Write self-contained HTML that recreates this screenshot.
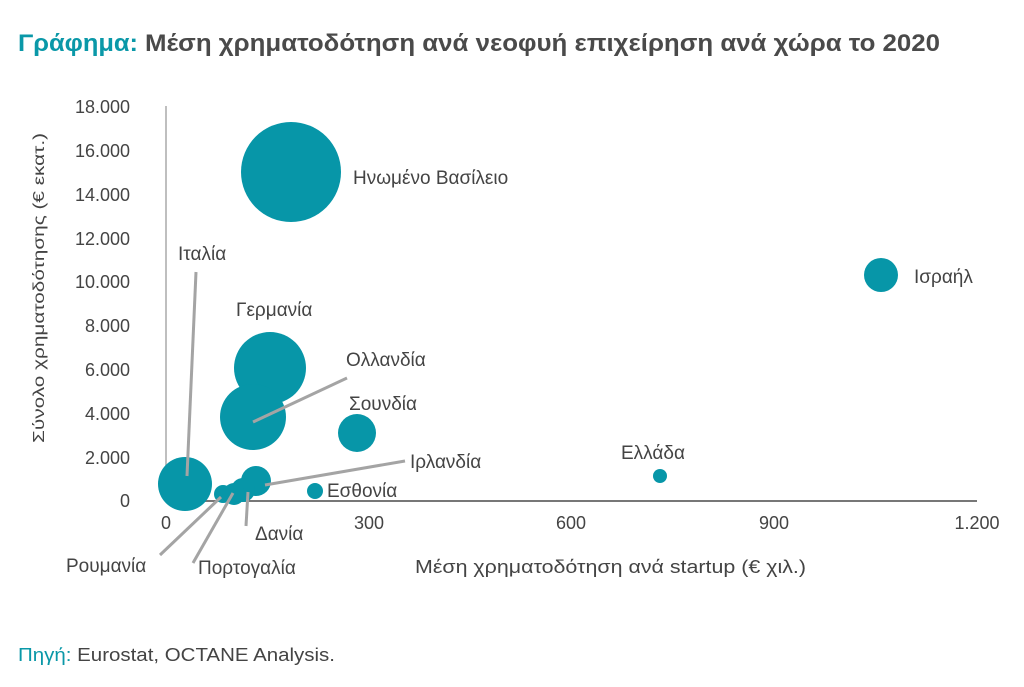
<!DOCTYPE html>
<html><head><meta charset="utf-8"><style>
body{margin:0;background:#fff;}
svg text{font-family:"Liberation Sans",sans-serif;fill:#444;}
</style></head><body>
<svg width="1024" height="682" xmlns="http://www.w3.org/2000/svg">
<text x="18" y="51" font-size="24" font-weight="bold" style="fill:#0a98a8" textLength="120" lengthAdjust="spacingAndGlyphs">Γράφημα:</text>
<text x="145" y="51" font-size="24" font-weight="bold" style="fill:#4a4a4a" textLength="795" lengthAdjust="spacingAndGlyphs">Μέση χρηματοδότηση ανά νεοφυή επιχείρηση ανά χώρα το 2020</text>
<g font-size="18" text-anchor="end">
<text x="130" y="113">18.000</text><text x="130" y="157">16.000</text><text x="130" y="201">14.000</text>
<text x="130" y="245">12.000</text><text x="130" y="288">10.000</text><text x="130" y="332">8.000</text>
<text x="130" y="376">6.000</text><text x="130" y="420">4.000</text><text x="130" y="464">2.000</text>
<text x="130" y="507">0</text></g>
<g font-size="18" text-anchor="middle">
<text x="166" y="529">0</text><text x="369" y="529">300</text><text x="571" y="529">600</text>
<text x="774" y="529">900</text><text x="977" y="529">1.200</text></g>
<text transform="translate(44,288) rotate(-90)" font-size="16" text-anchor="middle" textLength="310" lengthAdjust="spacingAndGlyphs">Σύνολο χρηματοδότησης (€ εκατ.)</text>
<text x="415" y="573" font-size="18" textLength="391" lengthAdjust="spacingAndGlyphs">Μέση χρηματοδότηση ανά startup (€ χιλ.)</text>
<line x1="166" y1="106" x2="166" y2="501" stroke="#aaa" stroke-width="1.5"/>
<line x1="166" y1="501" x2="977" y2="501" stroke="#777" stroke-width="2"/>
<g fill="#0796a8">
<circle cx="291" cy="172" r="50"/><circle cx="881" cy="275" r="17"/>
<circle cx="270" cy="368" r="36"/><circle cx="253" cy="417" r="33"/>
<circle cx="357" cy="433" r="19"/><circle cx="185" cy="484" r="27"/>
<circle cx="256" cy="481" r="15"/><circle cx="243" cy="490" r="12"/>
<circle cx="234" cy="494" r="11"/><circle cx="223" cy="494" r="9"/>
<circle cx="315" cy="491" r="8"/><circle cx="660" cy="476" r="7"/>
</g>
<g stroke="#a4a4a4" stroke-width="3">
<line x1="196" y1="272" x2="187" y2="476"/><line x1="347" y1="378" x2="253" y2="422"/>
<line x1="405" y1="461" x2="265" y2="485"/><line x1="248" y1="492" x2="246" y2="526"/>
<line x1="233" y1="493" x2="193" y2="563"/><line x1="221" y1="497" x2="160" y2="555"/>
</g>
<g font-size="19">
<text x="353" y="184">Ηνωμένο Βασίλειο</text><text x="914" y="283">Ισραήλ</text>
<text x="178" y="260">Ιταλία</text><text x="236" y="316">Γερμανία</text>
<text x="346" y="366">Ολλανδία</text><text x="349" y="410">Σουνδία</text>
<text x="410" y="468">Ιρλανδία</text><text x="327" y="497">Εσθονία</text>
<text x="621" y="459">Ελλάδα</text><text x="255" y="540">Δανία</text>
<text x="66" y="572">Ρουμανία</text><text x="198" y="574">Πορτογαλία</text>
</g>
<text x="18" y="661" font-size="18" textLength="317" lengthAdjust="spacingAndGlyphs"><tspan style="fill:#0a98a8">Πηγή:</tspan> Eurostat, OCTANE Analysis.</text>
</svg>
</body></html>
